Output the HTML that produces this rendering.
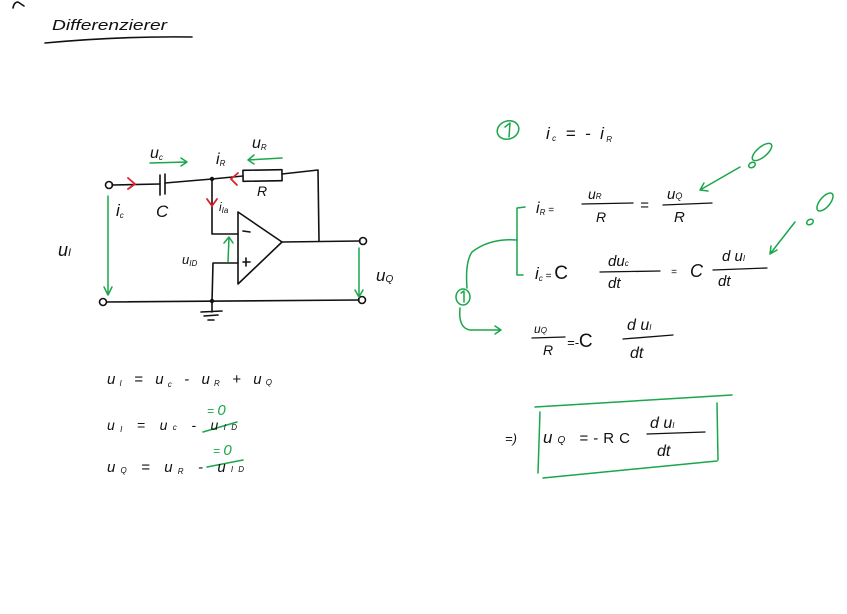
<!DOCTYPE html>
<html><head><meta charset="utf-8">
<style>
html,body{margin:0;padding:0;background:#fff;}
svg{display:block}
text{font-family:"Liberation Sans",sans-serif;font-style:italic;fill:#111}
.s{font-size:8px}
.g{fill:#1aa64a}
</style></head><body>
<svg width="847" height="614" viewBox="0 0 847 614" xmlns="http://www.w3.org/2000/svg">
<g fill="none" stroke="#111" stroke-width="1.6" stroke-linecap="round" stroke-linejoin="round">
<path d="M13,8 Q14,2 18,2 L24,6"/>
<path d="M45,43 Q120,36 192,37"/>
<circle cx="109" cy="185" r="3.5"/>
<path d="M112,185 L160,184"/>
<path d="M160,175 L160,195 M165,174 L165,194"/>
<path d="M165,183 L212,179"/>
<path d="M212,179 L243,176"/>
<rect x="243" y="170" width="39" height="11" transform="rotate(-1 262 175)"/>
<path d="M282,174 L318,170 L319,241"/>
<path d="M212,179 L212,234 L238,234"/>
<path d="M238,212 L238,284 L282,242 Z"/>
<path d="M282,242 L360,241"/>
<circle cx="363" cy="241" r="3.5"/>
<path d="M238,263 L213,263 L212,302"/>
<circle cx="103" cy="302" r="3.5"/>
<path d="M107,302 L359,300"/>
<circle cx="362" cy="300" r="3.5"/>
<path d="M212,302 L212,312 M201,312 L222,311 M204,316 L218,315 M208,320 L214,320"/>
<path d="M243,231 L250,232 M243,262 L250,262 M246,258 L246,266"/>
</g>
<circle cx="212" cy="179" r="2.2" fill="#111"/>
<circle cx="212" cy="301" r="2.2" fill="#111"/>
<g fill="none" stroke="#e0202a" stroke-width="1.8" stroke-linecap="round">
<path d="M128,178 L135,184 L128,189"/>
<path d="M238,173 L231,179 L237,185"/>
<path d="M207,199 L212,206 L217,199"/>
</g>
<g fill="none" stroke="#1aa64a" stroke-width="1.5" stroke-linecap="round" stroke-linejoin="round">
<path d="M108,196 L108,295 M104,287 L108,295 L112,287"/>
<path d="M150,163 L187,162 M181,158 L187,162 L181,166"/>
<path d="M282,158 L248,160 M254,155 L248,160 L254,164"/>
<path d="M228,262 L229,237 M224,243 L229,237 L233,243"/>
<path d="M359,248 L359,297 M355,290 L359,297 L363,290"/>
<ellipse cx="508" cy="130" rx="11" ry="9" transform="rotate(-20 508 130)"/>
<path d="M505,127 L510,123 L509,137"/>
<path d="M740,167 L700,190 M708,191 L700,190 L704,183"/>
<ellipse cx="762" cy="152" rx="12" ry="5" transform="rotate(-40 762 152)"/>
<ellipse cx="752" cy="165" rx="3.5" ry="2.5" transform="rotate(-30 752 165)"/>
<path d="M795,222 L770,254 M771,246 L770,254 L777,250"/>
<ellipse cx="825" cy="202" rx="11" ry="5" transform="rotate(-50 825 202)"/>
<ellipse cx="810" cy="222" rx="3.5" ry="2.5" transform="rotate(-30 810 222)"/>
<path d="M525,207 L517,208 L517,275 L523,275"/>
<path d="M517,240 Q490,238 472,252 Q465,262 467,288"/>
<ellipse cx="463" cy="297" rx="7" ry="8"/>
<path d="M461,293 L464,291 L464,302"/>
<path d="M460,308 Q458,328 470,330 L501,330 M495,326 L501,330 L495,334"/>
<path d="M535,407 L732,395"/>
<path d="M540,412 L538,473"/>
<path d="M543,478 L717,461"/>
<path d="M717,403 L718,460"/>
<path d="M203,432 L237,422"/>
<path d="M207,467 L243,460"/>
</g>
<g fill="none" stroke="#111" stroke-width="1.3" stroke-linecap="round">
<path d="M582,204 L633,203"/>
<path d="M663,205 L712,203"/>
<path d="M600,272 L660,271"/>
<path d="M713,270 L767,268"/>
<path d="M532,338 L565,337"/>
<path d="M623,339 L673,335"/>
<path d="M647,434 L705,432"/>
</g>
<text x="52" y="30" font-size="15" textLength="115" lengthAdjust="spacingAndGlyphs">Differenzierer</text>
<text x="150" y="158" font-size="16">u<tspan class="s" dy="2">c</tspan></text>
<text x="216" y="164" font-size="16">i<tspan class="s" dy="2">R</tspan></text>
<text x="252" y="148" font-size="16">u<tspan class="s" dy="2">R</tspan></text>
<text x="257" y="196" font-size="14">R</text>
<text x="116" y="216" font-size="17">i<tspan class="s" dy="2">c</tspan></text>
<text x="156" y="217" font-size="17">C</text>
<text x="219" y="211" font-size="12">i<tspan class="s" dy="2">Ia</tspan></text>
<text x="58" y="256" font-size="18">u<tspan font-size="11">I</tspan></text>
<text x="182" y="264" font-size="13">u<tspan class="s" dy="2">ID</tspan></text>
<text x="376" y="281" font-size="17">u<tspan font-size="10" dy="1">Q</tspan></text>
<text x="107" y="384" font-size="15" textLength="165" lengthAdjust="spacing">u<tspan class="s" dy="2">I</tspan><tspan dy="-2"> = u</tspan><tspan class="s" dy="3">c</tspan><tspan dy="-3"> - u</tspan><tspan class="s" dy="2">R</tspan><tspan dy="-2"> + u</tspan><tspan class="s" dy="1">Q</tspan></text>
<text x="107" y="430" font-size="14" textLength="130" lengthAdjust="spacing">u<tspan class="s" dy="2">I</tspan><tspan dy="-2"> = u</tspan><tspan class="s">c</tspan><tspan> - u</tspan><tspan class="s">ID</tspan></text>
<text x="207" y="415" font-size="12" class="g">= <tspan font-size="15">0</tspan></text>
<text x="107" y="472" font-size="15" textLength="137" lengthAdjust="spacing">u<tspan class="s" dy="1">Q</tspan><tspan dy="-1"> = u</tspan><tspan class="s" dy="2">R</tspan><tspan dy="-2"> - u</tspan><tspan class="s">ID</tspan></text>
<text x="213" y="455" font-size="12" class="g">= <tspan font-size="15">0</tspan></text>
<text x="546" y="139" font-size="17" textLength="66" lengthAdjust="spacing">i<tspan class="s" dy="2">c</tspan><tspan dy="-2"> = - i</tspan><tspan class="s" dy="3">R</tspan></text>
<text x="536" y="213" font-size="16">i<tspan class="s" dy="2">R</tspan><tspan dy="-2" font-size="10"> =</tspan></text>
<text x="588" y="199" font-size="14">u<tspan class="s">R</tspan></text>
<text x="596" y="222" font-size="14">R</text>
<text x="640" y="210" font-size="15">=</text>
<text x="667" y="199" font-size="15">u<tspan font-size="9">Q</tspan></text>
<text x="674" y="222" font-size="15">R</text>
<text x="535" y="279" font-size="17">i<tspan class="s" dy="2">c</tspan><tspan dy="-2" font-size="10"> = </tspan><tspan font-size="19" font-style="normal">C</tspan></text>
<text x="608" y="266" font-size="15">du<tspan class="s">c</tspan></text>
<text x="608" y="288" font-size="15">dt</text>
<text x="671" y="275" font-size="10">=</text>
<text x="690" y="277" font-size="18" font-style="normal">C</text>
<text x="722" y="261" font-size="15">d u<tspan class="s">I</tspan></text>
<text x="718" y="286" font-size="15">dt</text>
<text x="534" y="333" font-size="12">u<tspan class="s">Q</tspan></text>
<text x="543" y="355" font-size="14">R</text>
<text x="567" y="347" font-size="13">=-<tspan font-size="19" font-style="normal">C</tspan></text>
<text x="627" y="330" font-size="16">d u<tspan class="s">I</tspan></text>
<text x="630" y="358" font-size="16">dt</text>
<text x="505" y="443" font-size="13">=)</text>
<text x="543" y="443" font-size="17" textLength="87" lengthAdjust="spacing">u<tspan font-size="10">Q</tspan><tspan font-size="15" font-style="normal"> =-RC</tspan></text>
<text x="650" y="428" font-size="16">d u<tspan class="s">I</tspan></text>
<text x="657" y="456" font-size="16">dt</text>
</svg>
</body></html>
